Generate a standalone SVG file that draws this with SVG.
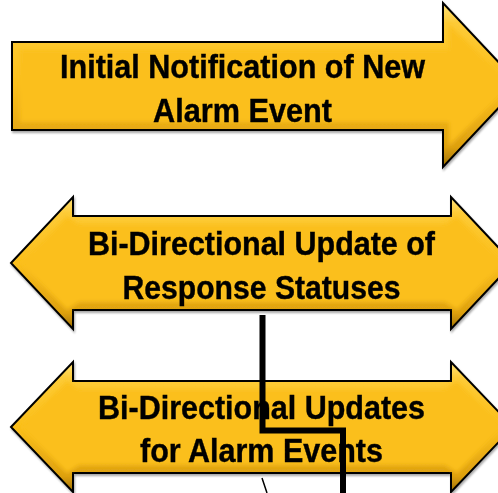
<svg xmlns="http://www.w3.org/2000/svg" width="498" height="493" viewBox="0 0 498 493">
  <defs>
    <linearGradient id="bevel" x1="0" y1="0" x2="0" y2="1">
      <stop offset="0" stop-color="#FFE27A"/>
      <stop offset="0.12" stop-color="#FDCB38"/>
      <stop offset="0.5" stop-color="#FBBF1C"/>
      <stop offset="0.88" stop-color="#DDA010"/>
      <stop offset="1" stop-color="#9E7000"/>
    </linearGradient>
    <filter id="soft" x="-5%" y="-10%" width="110%" height="120%">
      <feGaussianBlur stdDeviation="2.2"/>
    </filter>
    <filter id="shadow" x="-5%" y="-10%" width="110%" height="120%">
      <feGaussianBlur in="SourceAlpha" stdDeviation="1.2"/>
      <feOffset dx="1" dy="1.5" result="b"/>
      <feComponentTransfer><feFuncA type="linear" slope="0.35"/></feComponentTransfer>
      <feMerge><feMergeNode/><feMergeNode in="SourceGraphic"/></feMerge>
    </filter>
  </defs>
  <style>
    .outer { fill: url(#bevel); stroke: #000; stroke-width: 2; stroke-linejoin: miter; }
    .inner { fill: #FBBF1C; filter: url(#soft); }
    .lbl { font-family: "Liberation Sans", Arial, sans-serif; font-weight: bold; font-size: 32.5px; fill: #000; stroke: #000; stroke-width: 0.4; text-anchor: middle; }
    .conn { fill: none; stroke: #000; stroke-width: 6; stroke-linejoin: miter; }
    .thin { fill: none; stroke: #000; stroke-width: 1.5; }
  </style>

  <g id="arrow-initial" filter="url(#shadow)">
    <polygon class="outer" points="12,42 443,42 443,3 520,85 443,167 443,130 12,130"/>
    <polygon class="inner" points="20,50 449,50 449,24 511,85 449,146 449,122 20,122"/>
    <text class="lbl" x="242.5" y="78" textLength="365" lengthAdjust="spacingAndGlyphs">Initial Notification of New</text>
    <text class="lbl" x="242.5" y="122" textLength="179" lengthAdjust="spacingAndGlyphs">Alarm Event</text>
  </g>

  <g id="arrow-response" filter="url(#shadow)">
    <polygon class="outer" points="11,263 73,197 73,216 451,216 451,197 513,263 451,329 451,310 73,310 73,329"/>
    <polygon class="inner" points="21,263 67,216 79,224 445,224 457,216 503,263 457,310 445,302 79,302 67,310"/>
    <text class="lbl" x="261.5" y="255" textLength="347" lengthAdjust="spacingAndGlyphs">Bi-Directional Update of</text>
    <text class="lbl" x="261.5" y="298.5" textLength="278" lengthAdjust="spacingAndGlyphs">Response Statuses</text>
  </g>

  <g id="arrow-alarm" filter="url(#shadow)">
    <polygon class="outer" points="11,427 73,362 73,381 451,381 451,362 513,427 451,492 451,473 73,473 73,492"/>
    <polygon class="inner" points="21,427 67,381 79,389 445,389 457,381 503,427 457,473 445,465 79,465 67,473"/>
    <text class="lbl" x="261.5" y="418.5" textLength="327" lengthAdjust="spacingAndGlyphs">Bi-Directional Updates</text>
    <text class="lbl" x="261.5" y="462" textLength="243" lengthAdjust="spacingAndGlyphs">for Alarm Events</text>
  </g>

  <g id="connectors">
    <polyline class="conn" points="262.5,315 262.5,430.5 343,430.5 343,493"/>
    <line class="thin" x1="262" y1="478" x2="267" y2="493"/>
  </g>
</svg>
